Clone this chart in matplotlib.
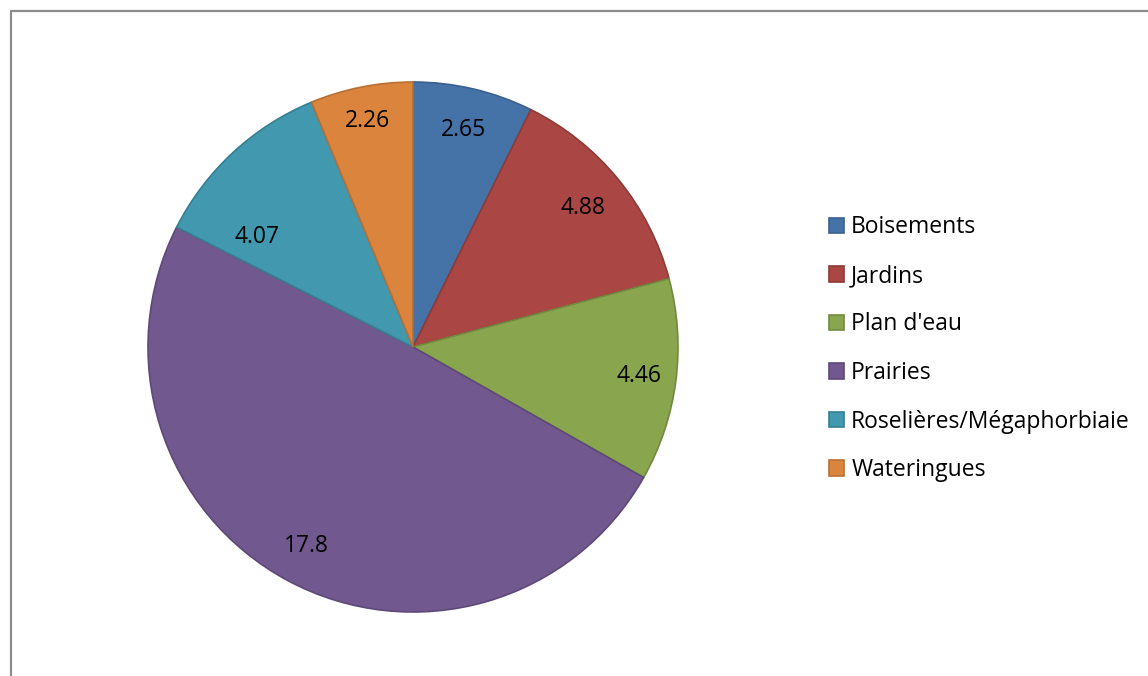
import matplotlib
matplotlib.use("Agg")
import matplotlib.pyplot as plt
from matplotlib.patches import Rectangle, Patch
import numpy as np

categories = ["Boisements", "Jardins", "Plan d'eau", "Prairies",
              "Roselières/Mégaphorbiaie", "Wateringues"]
values = [2.65, 4.88, 4.46, 17.8, 4.07, 2.26]
value_labels = ["2.65", "4.88", "4.46", "17.8", "4.07", "2.26"]

fills = ["#4572A7", "#AA4643", "#89A54E", "#71588F", "#4198AF", "#DB843D"]
edges = ["#3A6190", "#8E3A37", "#718A3F", "#5E4977", "#367F92", "#B96F33"]

plt.rcParams["font.family"] = ["Open Sans", "DejaVu Sans"]

W, H = 1148, 676
fig = plt.figure(figsize=(W / 100, H / 100), dpi=100)

# outer chart frame (left and top edges visible)
fig.patches.append(Rectangle((10.5 / W, -0.1), 1.2, 1.1 - 10.5 / H,
                             transform=fig.transFigure, fill=False,
                             edgecolor="#8c8c8c", linewidth=1.6))

cx, cy, r = 413, 347, 265
ax = fig.add_axes([(cx - r) / W, (H - cy - r) / H, 2 * r / W, 2 * r / H])
wedges, _ = ax.pie(values, colors=fills, startangle=90, counterclock=False,
                   wedgeprops=dict(linewidth=1.2))
for w, ec in zip(wedges, edges):
    w.set_edgecolor(ec)
    w.set_clip_on(False)
ax.set_xlim(-1, 1)
ax.set_ylim(-1, 1)
ax.set_aspect("equal")
ax.axis("off")

# data labels placed inside each slice
label_radius = [0.84, 0.83, 0.86, 0.85, 0.72, 0.87]
label_shift = [0, 0, 0, 0, 12, 0]
for w, txt, lr, sh in zip(wedges, value_labels, label_radius, label_shift):
    ang = np.deg2rad((w.theta1 + w.theta2) / 2 + sh)
    ax.text(lr * np.cos(ang), lr * np.sin(ang), txt, ha="center", va="center",
            fontsize=16.5, color="black")

handles = [Patch(facecolor=f, edgecolor=e, linewidth=1.2) for f, e in zip(fills, edges)]
fig.legend(handles, categories, loc="upper left",
           bbox_to_anchor=(818 / W, 1 - 204 / H), frameon=False,
           fontsize=16.5, handlelength=0.65, handleheight=0.65,
           handletextpad=0.3, labelspacing=1.07, borderpad=0)

fig.savefig("out.png", dpi=100, facecolor="white")
